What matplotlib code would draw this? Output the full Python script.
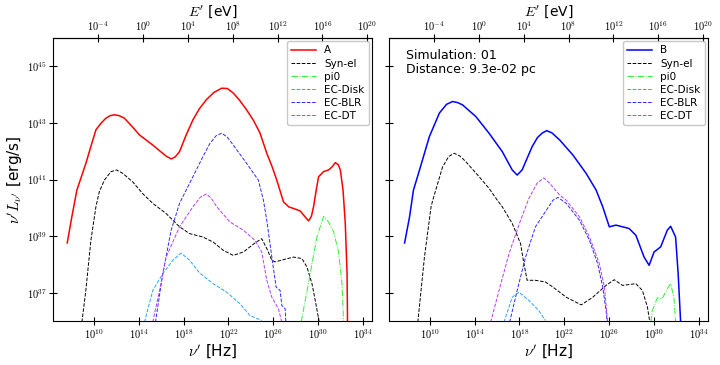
import matplotlib
matplotlib.use("Agg")
import matplotlib.pyplot as plt
import numpy as np

plt.rcParams['mathtext.fontset'] = 'cm'
plt.rcParams['font.family'] = ['DejaVu Sans']

H_EV = 4.135667e-15  # eV s

# ---- left panel (A), values as log10(nu), log10(nu L_nu) ----
a_lognu = [7.62, 8.03, 8.48, 9.28, 9.75, 10.18, 10.65, 11.07, 11.45, 11.82, 12.25, 12.72, 13.4,
           14.06, 15.25, 16.44, 16.89, 17.25, 17.64, 18.2, 18.83, 19.4, 20.02, 20.7, 21.40, 21.9,
           22.43, 23.0, 23.63, 24.25, 24.82, 25.42, 25.9, 26.31, 26.91, 27.40, 27.80, 28.40, 28.8,
           29.14, 29.40, 29.59, 29.83, 30.04, 30.48, 30.93, 31.25, 31.53, 31.8, 31.98, 32.22, 32.42,
           32.58, 32.63]
a_logL = [38.76, 39.68, 40.63, 41.57, 42.2, 42.76, 43.0, 43.17, 43.26, 43.29, 43.26, 43.17, 42.88,
          42.58, 42.22, 41.83, 41.73, 41.80, 41.99, 42.55, 43.11, 43.50, 43.82, 44.08, 44.23, 44.22,
          44.06, 43.80, 43.46, 43.08, 42.64, 41.93, 41.45, 40.98, 40.21, 40.03, 39.98, 39.89, 39.70,
          39.54, 39.70, 40.04, 40.63, 41.10, 41.28, 41.34, 41.45, 41.60, 41.52, 41.34, 40.63, 39.46,
          37.68, 35.6]

a_syn_lognu = [8.93, 9.28, 9.73, 10.18, 10.48, 10.93, 11.52, 12.03, 12.57, 13.46, 14.36, 15.25,
               16.44, 17.64, 18.53, 19.72, 20.64, 21.54, 22.43, 23.33, 24.37, 24.97, 25.42, 25.87,
               26.16, 26.91, 27.80, 28.55, 29.00, 29.45, 29.74, 30.10]
a_syn_logL = [35.96, 37.08, 38.85, 40.04, 40.57, 40.98, 41.28, 41.34, 41.22, 40.92, 40.50, 40.16,
              39.80, 39.33, 39.09, 38.97, 38.79, 38.50, 38.32, 38.44, 38.76, 38.91, 38.56, 38.15,
              38.09, 38.17, 38.26, 38.21, 37.91, 37.32, 36.73, 35.96]

a_pi0_lognu = [28.49, 29.29, 29.89, 30.48, 30.93, 31.38, 31.82, 32.13, 32.27]
a_pi0_logL = [35.96, 37.67, 38.97, 39.70, 39.50, 39.15, 38.44, 37.32, 35.96]

a_disk_lognu = [14.51, 15.25, 16.14, 17.04, 17.78, 18.53, 19.43, 20.64, 21.84, 23.03, 23.93, 24.97]
a_disk_logL = [35.96, 37.08, 37.67, 38.15, 38.40, 38.15, 37.70, 37.32, 37.02, 36.61, 36.19, 36.02]

a_blr_lognu = [15.49, 16.14, 16.89, 17.64, 18.23, 18.83, 19.72, 20.35, 20.9, 21.40, 21.9, 22.43,
               23.63, 24.67, 25.12, 25.42, 25.87, 26.25, 26.61, 26.76, 27.06, 27.12]
a_blr_logL = [35.96, 37.67, 39.21, 40.16, 40.63, 41.10, 41.81, 42.28, 42.55, 42.64, 42.50, 42.22,
              41.57, 40.98, 40.27, 39.56, 38.26, 37.20, 37.08, 36.55, 36.43, 35.96]

a_dt_lognu = [15.25, 15.85, 16.44, 17.64, 18.83, 19.5, 20.02, 20.45, 20.95, 22.14, 23.33, 24.37,
              24.97, 25.42, 25.87, 26.46, 26.76]
a_dt_logL = [35.96, 37.08, 38.26, 39.33, 40.04, 40.38, 40.49, 40.35, 40.04, 39.50, 39.21, 38.85,
             38.44, 37.44, 36.84, 36.43, 35.96]

# ---- right panel (B) ----
b_lognu = [7.76, 8.20, 8.55, 9.09, 9.97, 10.86, 11.5, 12.04, 12.5, 12.93, 14.11, 15.29, 16.47,
           17.36, 17.80, 18.24, 19.13, 19.6, 20.02, 20.43, 20.9, 21.59, 22.77, 23.95, 24.84, 25.43,
           26.02, 26.61, 27.79, 28.39, 29.12, 29.57, 30.01, 30.60, 31.19, 31.49, 31.93, 32.16,
           32.38]
b_logL = [38.76, 39.68, 40.63, 41.34, 42.52, 43.35, 43.66, 43.76, 43.72, 43.64, 43.23, 42.64,
          41.99, 41.34, 41.16, 41.34, 42.16, 42.48, 42.64, 42.73, 42.65, 42.40, 41.87, 41.22, 40.63,
          40.04, 39.33, 39.39, 39.27, 39.03, 38.26, 37.97, 38.44, 38.62, 39.21, 39.35, 38.97,
          37.67, 35.96]

b_syn_lognu = [8.94, 9.53, 10.12, 10.27, 11.15, 11.7, 12.19, 12.7, 13.23, 14.41, 15.29, 16.03,
               16.47, 17.36, 18.10, 18.40, 18.69, 19.43, 20.32, 20.99, 22.18, 23.51, 24.54, 25.73,
               26.46, 27.20, 28.39, 28.97, 29.42, 29.63]
b_syn_logL = [35.96, 38.26, 40.04, 40.27, 41.45, 41.82, 41.93, 41.83, 41.63, 41.10, 40.69, 40.27,
              40.04, 39.45, 38.74, 38.03, 37.44, 37.44, 37.38, 37.20, 36.84, 36.57, 36.84, 37.26,
              37.46, 37.26, 37.32, 37.08, 36.49, 35.96]

b_pi0_lognu = [29.72, 29.86, 30.30, 30.74, 31.19, 31.49, 31.78, 31.93]
b_pi0_logL = [35.96, 36.37, 36.82, 36.79, 37.14, 37.32, 36.84, 35.96]

b_disk_lognu = [16.62, 17.36, 17.95, 18.84, 19.73, 20.32]
b_disk_logL = [35.96, 36.84, 37.02, 36.73, 36.37, 36.02]

b_blr_lognu = [17.13, 17.80, 18.55, 19.43, 20.41, 20.99, 21.44, 22.18, 23.36, 24.25, 24.98, 25.43,
               25.73, 25.82]
b_blr_logL = [35.96, 37.08, 38.26, 39.33, 39.92, 40.27, 40.37, 40.16, 39.56, 38.85, 38.03, 37.20,
              36.37, 35.96]

b_dt_lognu = [15.44, 16.18, 17.07, 18.10, 18.84, 19.57, 20.17, 20.70, 21.59, 22.18, 23.36, 24.25,
              25.13, 25.58, 25.87]
b_dt_logL = [35.96, 37.08, 38.38, 39.56, 40.33, 40.87, 41.06, 40.87, 40.45, 40.27, 39.68, 38.97,
             38.03, 37.20, 35.96]

xticks_nu = [1e10, 1e14, 1e18, 1e22, 1e26, 1e30, 1e34]
xticks_E = [1e-4, 1e0, 1e4, 1e8, 1e12, 1e16, 1e20]
yticks_L = [1e37, 1e39, 1e41, 1e43, 1e45]


def sci(v, pos=None):
    return r'$10^{%d}$' % int(round(np.log10(v)))


def pw(x):
    return 10 ** np.array(x)


fig = plt.figure(figsize=(7.2, 3.65), dpi=100)
ax1 = fig.add_axes([0.0736, 0.1205, 0.443, 0.775])
ax2 = fig.add_axes([0.540, 0.1205, 0.443, 0.775])

c_disk = '#2aa4ff'
c_blr = '#2a2aff'
c_dt = '#b43cff'
c_pi0 = '#33ee33'

panels = [
    (ax1, 'A', 'red', a_lognu, a_logL, a_syn_lognu, a_syn_logL, a_pi0_lognu, a_pi0_logL,
     a_disk_lognu, a_disk_logL, a_blr_lognu, a_blr_logL, a_dt_lognu, a_dt_logL),
    (ax2, 'B', '#0000ff', b_lognu, b_logL, b_syn_lognu, b_syn_logL, b_pi0_lognu, b_pi0_logL,
     b_disk_lognu, b_disk_logL, b_blr_lognu, b_blr_logL, b_dt_lognu, b_dt_logL),
]

for (ax, name, col, tx, ty, sx, sy, px, py, dx, dy, bx, by, ex, ey) in panels:
    ax.plot(pw(tx), pw(ty), color=col, lw=1.1, label=name)
    ax.plot(pw(sx), pw(sy), color='k', ls='--', lw=0.7, label='Syn-el')
    ax.plot(pw(px), pw(py), color=c_pi0, ls='-.', lw=0.7, label='pi0')
    ax.plot(pw(dx), pw(dy), color=c_disk, ls='--', lw=0.7, label='EC-Disk')
    ax.plot(pw(bx), pw(by), color=c_blr, ls='--', lw=0.7, label='EC-BLR')
    ax.plot(pw(ex), pw(ey), color=c_dt, ls='--', lw=0.7, label='EC-DT')
    ax.set_xscale('log')
    ax.set_yscale('log')
    ax.set_xlim(10 ** 6.35, 10 ** 34.8)
    ax.set_ylim(1e36, 1e46)
    ax.set_xticks(xticks_nu)
    ax.set_yticks(yticks_L)
    ax.minorticks_off()
    ax.xaxis.set_major_formatter(plt.FuncFormatter(sci))
    ax.yaxis.set_major_formatter(plt.FuncFormatter(sci))
    ax.tick_params(direction='inout', length=6, width=0.8, labelsize=7.5, pad=1.5)
    ax.set_xlabel(r"$\nu'$ [Hz]", fontsize=11, labelpad=1)
    leg = ax.legend(loc='upper right', fontsize=7.5, handlelength=2.4,
                    borderaxespad=0.3, labelspacing=0.3, fancybox=True)
    leg.get_frame().set_edgecolor('#bbbbbb')

    sec = ax.secondary_xaxis('top', functions=(lambda nu: nu * H_EV, lambda e: e / H_EV))
    sec.set_xticks(xticks_E)
    sec.minorticks_off()
    sec.xaxis.set_major_formatter(plt.FuncFormatter(sci))
    sec.tick_params(direction='inout', length=6, width=0.8, labelsize=7.5, pad=1)
    sec.set_xlabel(r"$E'$ [eV]", fontsize=10, labelpad=2.5)

ax1.set_ylabel(r"$\nu' L_{\nu'}$ [erg/s]", fontsize=11, labelpad=1)
ax2.set_yticklabels([])
ax2.text(0.055, 0.96, 'Simulation: 01\nDistance: 9.3e-02 pc', transform=ax2.transAxes,
         ha='left', va='top', fontsize=9, linespacing=1.1)

fig.savefig('out.png', dpi=100)
